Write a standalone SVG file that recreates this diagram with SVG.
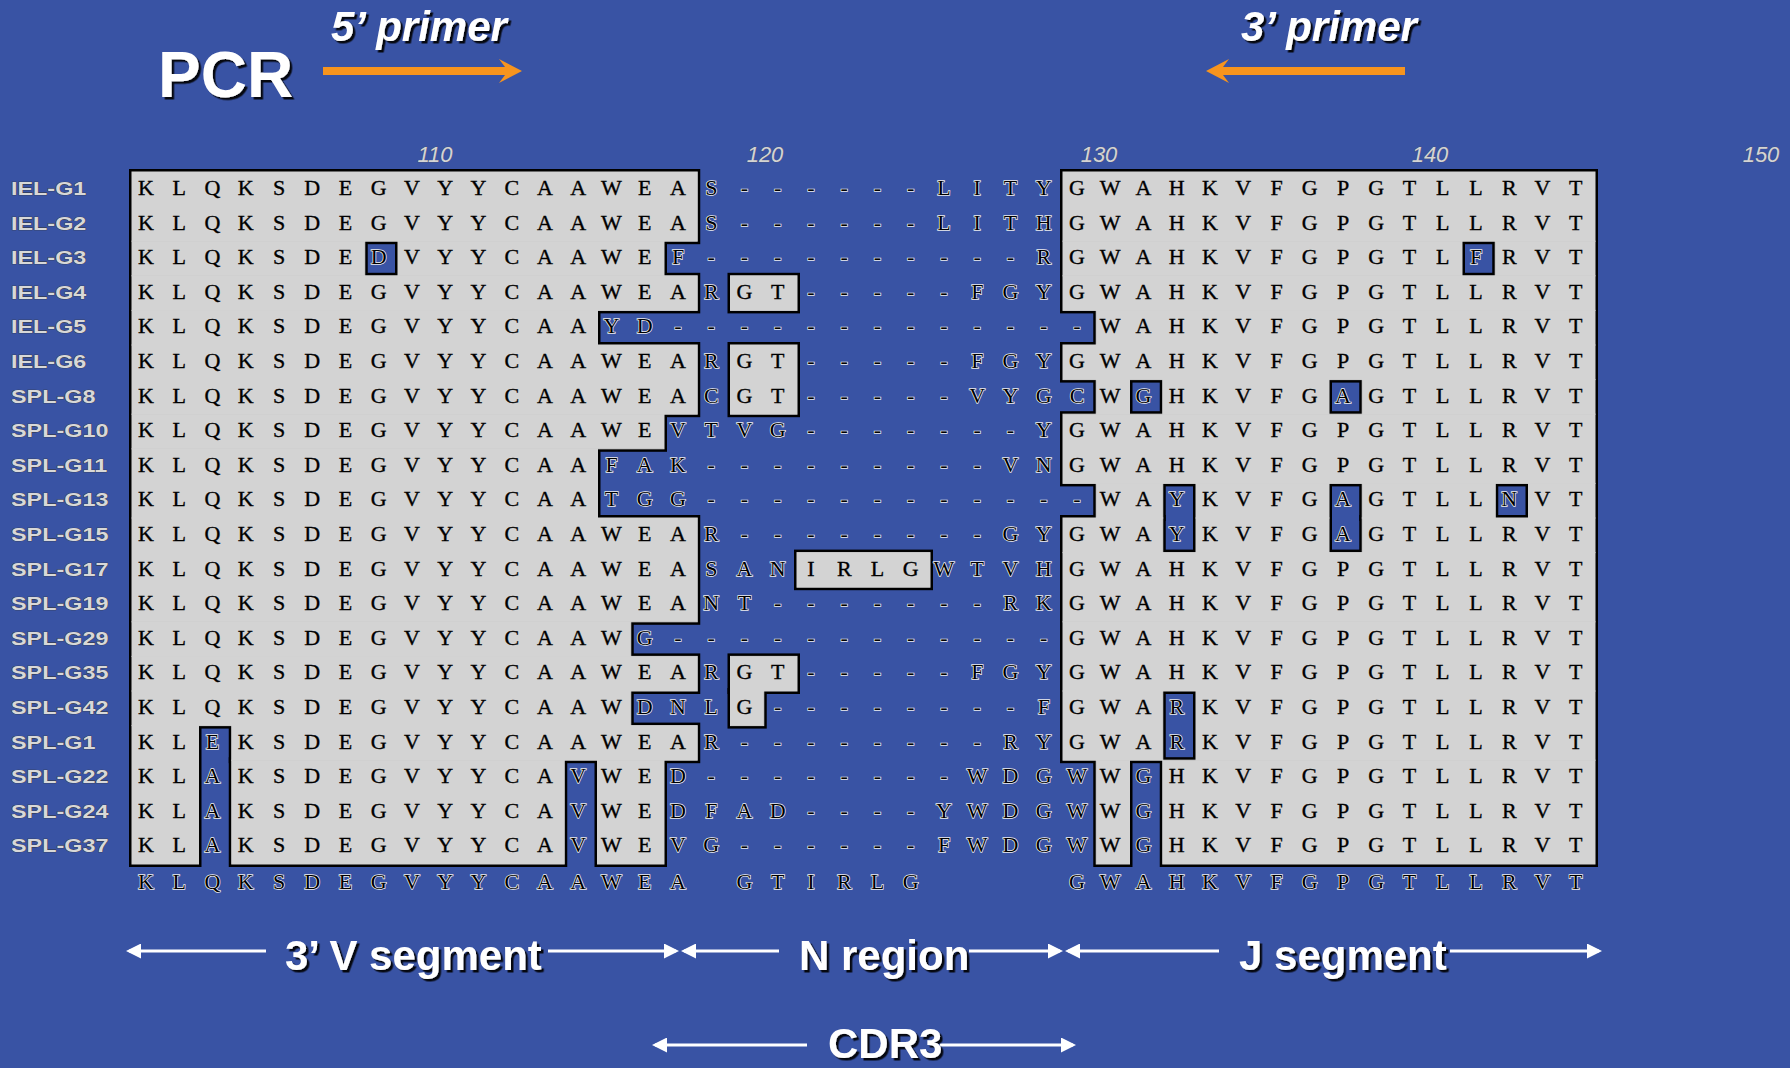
<svg xmlns="http://www.w3.org/2000/svg" xmlns:xlink="http://www.w3.org/1999/xlink" width="1790" height="1068" viewBox="0 0 1790 1068">
<style>
.lbl{font-family:"Liberation Sans",Arial,sans-serif;font-weight:bold;font-size:18px;fill:#d8d8d8;stroke:#333;stroke-width:0.7px;paint-order:stroke}
.num{font-family:"Liberation Sans",Arial,sans-serif;font-style:italic;font-size:22px;fill:#d4d4d4;stroke:#555;stroke-width:0.5px;paint-order:stroke;text-anchor:middle}
.t{font-family:"Liberation Serif","Times New Roman",serif;font-size:22px;fill:#000;stroke:#000;stroke-width:0.35px;text-anchor:middle}
.h{stroke:#eeeeee;stroke-width:1.5px;paint-order:stroke}
.big{font-family:"Liberation Sans",Arial,sans-serif;font-weight:bold;fill:#fff;filter:url(#sh)}
.ital{font-style:italic}
.arr{stroke:#fff;stroke-width:3;fill:none;marker-end:url(#ah)}
.org{fill:#F7941E}
</style>
<defs>
<filter id="sh" x="-10%" y="-10%" width="130%" height="140%">
<feDropShadow dx="2.5" dy="2.5" stdDeviation="0.4" flood-color="#000" flood-opacity="0.9"/>
</filter>
<marker id="ah" viewBox="0 0 10 10" refX="8" refY="5" markerUnits="userSpaceOnUse" markerWidth="15" markerHeight="15" orient="auto">
<path d="M0,0 L10,5 L0,10 z" fill="#fff"/>
</marker>
<g id="cells">
<rect x="132" y="172" width="565.25" height="69.2"/>
<rect x="1063" y="172" width="532" height="69.2"/>
<rect x="132" y="241.2" width="232.75" height="34.6"/>
<rect x="398" y="241.2" width="266" height="34.6"/>
<rect x="1063" y="241.2" width="399" height="34.6"/>
<rect x="1495.25" y="241.2" width="99.75" height="34.6"/>
<rect x="132" y="275.8" width="565.25" height="34.6"/>
<rect x="730.5" y="275.8" width="66.5" height="34.6"/>
<rect x="1063" y="275.8" width="532" height="34.6"/>
<rect x="132" y="310.4" width="465.5" height="34.6"/>
<rect x="1096.25" y="310.4" width="498.75" height="34.6"/>
<rect x="132" y="345" width="565.25" height="69.2"/>
<rect x="730.5" y="345" width="66.5" height="69.2"/>
<rect x="1063" y="345" width="532" height="34.6"/>
<rect x="1096.25" y="379.6" width="33.25" height="34.6"/>
<rect x="1162.75" y="379.6" width="166.25" height="34.6"/>
<rect x="1362.25" y="379.6" width="232.75" height="34.6"/>
<rect x="132" y="414.2" width="532" height="34.6"/>
<rect x="1063" y="414.2" width="532" height="69.2"/>
<rect x="132" y="448.8" width="465.5" height="69.2"/>
<rect x="1096.25" y="483.4" width="66.5" height="34.6"/>
<rect x="1196" y="483.4" width="133" height="34.6"/>
<rect x="1362.25" y="483.4" width="133" height="34.6"/>
<rect x="1528.5" y="483.4" width="66.5" height="34.6"/>
<rect x="132" y="518" width="565.25" height="103.8"/>
<rect x="1063" y="518" width="99.75" height="34.6"/>
<rect x="1196" y="518" width="133" height="34.6"/>
<rect x="1362.25" y="518" width="232.75" height="34.6"/>
<rect x="797" y="552.6" width="133" height="34.6"/>
<rect x="1063" y="552.6" width="532" height="69.2"/>
<rect x="132" y="621.8" width="498.75" height="34.6"/>
<rect x="1063" y="621.8" width="532" height="69.2"/>
<rect x="132" y="656.4" width="565.25" height="34.6"/>
<rect x="730.5" y="656.4" width="66.5" height="34.6"/>
<rect x="132" y="691" width="498.75" height="34.6"/>
<rect x="730.5" y="691" width="33.25" height="34.6"/>
<rect x="1063" y="691" width="99.75" height="69.2"/>
<rect x="1196" y="691" width="399" height="69.2"/>
<rect x="132" y="725.6" width="66.5" height="138.4"/>
<rect x="231.75" y="725.6" width="465.5" height="34.6"/>
<rect x="231.75" y="760.2" width="332.5" height="103.8"/>
<rect x="597.5" y="760.2" width="66.5" height="103.8"/>
<rect x="1096.25" y="760.2" width="33.25" height="103.8"/>
<rect x="1162.75" y="760.2" width="432.25" height="103.8"/>
</g>
</defs>
<rect id="background" x="0" y="0" width="1790" height="1068" fill="#3953A4"/>
<g id="title">
<text class="big" x="158" y="97" font-size="64">PCR</text>
<text class="big ital" x="331" y="41" font-size="42">5’ primer</text>
<text class="big ital" x="1241" y="41" font-size="42">3’ primer</text>
<polygon class="org" points="323,67 505,67 499,59 522,71 499,83 505,75 323,75"/>
<polygon class="org" points="1405,67 1223,67 1229,59 1206,71 1229,83 1223,75 1405,75"/>
</g>
<g id="ruler">
<text class="num" x="435" y="162">110</text>
<text class="num" x="765" y="162">120</text>
<text class="num" x="1099" y="162">130</text>
<text class="num" x="1430" y="162">140</text>
<text class="num" x="1761" y="162">150</text>
</g>
<g id="alignment-boxes">
<use xlink:href="#cells" href="#cells" fill="#000" stroke="#000" stroke-width="6"/>
<use xlink:href="#cells" href="#cells" fill="#D3D3D3" stroke="#D3D3D3" stroke-width="1"/>
</g>
<g id="row-labels" transform="translate(11,0) scale(1.3,1)">
<text class="lbl" x="0" y="195">IEL-G1</text>
<text class="lbl" x="0" y="229.6">IEL-G2</text>
<text class="lbl" x="0" y="264.2">IEL-G3</text>
<text class="lbl" x="0" y="298.8">IEL-G4</text>
<text class="lbl" x="0" y="333.4">IEL-G5</text>
<text class="lbl" x="0" y="368">IEL-G6</text>
<text class="lbl" x="0" y="402.6">SPL-G8</text>
<text class="lbl" x="0" y="437.2">SPL-G10</text>
<text class="lbl" x="0" y="471.8">SPL-G11</text>
<text class="lbl" x="0" y="506.4">SPL-G13</text>
<text class="lbl" x="0" y="541">SPL-G15</text>
<text class="lbl" x="0" y="575.6">SPL-G17</text>
<text class="lbl" x="0" y="610.2">SPL-G19</text>
<text class="lbl" x="0" y="644.8">SPL-G29</text>
<text class="lbl" x="0" y="679.4">SPL-G35</text>
<text class="lbl" x="0" y="714">SPL-G42</text>
<text class="lbl" x="0" y="748.6">SPL-G1</text>
<text class="lbl" x="0" y="783.2">SPL-G22</text>
<text class="lbl" x="0" y="817.8">SPL-G24</text>
<text class="lbl" x="0" y="852.4">SPL-G37</text>
</g>
<g id="sequences">
<text class="t" y="195" x="146 179.25 212.5 245.75 279 312.25 345.5 378.75 412 445.25 478.5 511.75 545 578.25 611.5 644.75 678 711.25 744.5 777.75 811 844.25 877.5 910.75 944 977.25 1010.5 1043.75 1077 1110.25 1143.5 1176.75 1210 1243.25 1276.5 1309.75 1343 1376.25 1409.5 1442.75 1476 1509.25 1542.5 1575.75">KLQKSDEGVYYCAAWEA<tspan class="h">S------LITY</tspan>GWAHKVFGPGTLLRVT</text>
<text class="t" y="229.6" x="146 179.25 212.5 245.75 279 312.25 345.5 378.75 412 445.25 478.5 511.75 545 578.25 611.5 644.75 678 711.25 744.5 777.75 811 844.25 877.5 910.75 944 977.25 1010.5 1043.75 1077 1110.25 1143.5 1176.75 1210 1243.25 1276.5 1309.75 1343 1376.25 1409.5 1442.75 1476 1509.25 1542.5 1575.75">KLQKSDEGVYYCAAWEA<tspan class="h">S------LITH</tspan>GWAHKVFGPGTLLRVT</text>
<text class="t" y="264.2" x="146 179.25 212.5 245.75 279 312.25 345.5 378.75 412 445.25 478.5 511.75 545 578.25 611.5 644.75 678 711.25 744.5 777.75 811 844.25 877.5 910.75 944 977.25 1010.5 1043.75 1077 1110.25 1143.5 1176.75 1210 1243.25 1276.5 1309.75 1343 1376.25 1409.5 1442.75 1476 1509.25 1542.5 1575.75">KLQKSDE<tspan class="h">D</tspan>VYYCAAWE<tspan class="h">F----------R</tspan>GWAHKVFGPGTL<tspan class="h">F</tspan>RVT</text>
<text class="t" y="298.8" x="146 179.25 212.5 245.75 279 312.25 345.5 378.75 412 445.25 478.5 511.75 545 578.25 611.5 644.75 678 711.25 744.5 777.75 811 844.25 877.5 910.75 944 977.25 1010.5 1043.75 1077 1110.25 1143.5 1176.75 1210 1243.25 1276.5 1309.75 1343 1376.25 1409.5 1442.75 1476 1509.25 1542.5 1575.75">KLQKSDEGVYYCAAWEA<tspan class="h">R</tspan>GT<tspan class="h">-----FGY</tspan>GWAHKVFGPGTLLRVT</text>
<text class="t" y="333.4" x="146 179.25 212.5 245.75 279 312.25 345.5 378.75 412 445.25 478.5 511.75 545 578.25 611.5 644.75 678 711.25 744.5 777.75 811 844.25 877.5 910.75 944 977.25 1010.5 1043.75 1077 1110.25 1143.5 1176.75 1210 1243.25 1276.5 1309.75 1343 1376.25 1409.5 1442.75 1476 1509.25 1542.5 1575.75">KLQKSDEGVYYCAA<tspan class="h">YD-------------</tspan>WAHKVFGPGTLLRVT</text>
<text class="t" y="368" x="146 179.25 212.5 245.75 279 312.25 345.5 378.75 412 445.25 478.5 511.75 545 578.25 611.5 644.75 678 711.25 744.5 777.75 811 844.25 877.5 910.75 944 977.25 1010.5 1043.75 1077 1110.25 1143.5 1176.75 1210 1243.25 1276.5 1309.75 1343 1376.25 1409.5 1442.75 1476 1509.25 1542.5 1575.75">KLQKSDEGVYYCAAWEA<tspan class="h">R</tspan>GT<tspan class="h">-----FGY</tspan>GWAHKVFGPGTLLRVT</text>
<text class="t" y="402.6" x="146 179.25 212.5 245.75 279 312.25 345.5 378.75 412 445.25 478.5 511.75 545 578.25 611.5 644.75 678 711.25 744.5 777.75 811 844.25 877.5 910.75 944 977.25 1010.5 1043.75 1077 1110.25 1143.5 1176.75 1210 1243.25 1276.5 1309.75 1343 1376.25 1409.5 1442.75 1476 1509.25 1542.5 1575.75">KLQKSDEGVYYCAAWEA<tspan class="h">C</tspan>GT<tspan class="h">-----VYGC</tspan>W<tspan class="h">G</tspan>HKVFG<tspan class="h">A</tspan>GTLLRVT</text>
<text class="t" y="437.2" x="146 179.25 212.5 245.75 279 312.25 345.5 378.75 412 445.25 478.5 511.75 545 578.25 611.5 644.75 678 711.25 744.5 777.75 811 844.25 877.5 910.75 944 977.25 1010.5 1043.75 1077 1110.25 1143.5 1176.75 1210 1243.25 1276.5 1309.75 1343 1376.25 1409.5 1442.75 1476 1509.25 1542.5 1575.75">KLQKSDEGVYYCAAWE<tspan class="h">VTVG-------Y</tspan>GWAHKVFGPGTLLRVT</text>
<text class="t" y="471.8" x="146 179.25 212.5 245.75 279 312.25 345.5 378.75 412 445.25 478.5 511.75 545 578.25 611.5 644.75 678 711.25 744.5 777.75 811 844.25 877.5 910.75 944 977.25 1010.5 1043.75 1077 1110.25 1143.5 1176.75 1210 1243.25 1276.5 1309.75 1343 1376.25 1409.5 1442.75 1476 1509.25 1542.5 1575.75">KLQKSDEGVYYCAA<tspan class="h">FAK---------VN</tspan>GWAHKVFGPGTLLRVT</text>
<text class="t" y="506.4" x="146 179.25 212.5 245.75 279 312.25 345.5 378.75 412 445.25 478.5 511.75 545 578.25 611.5 644.75 678 711.25 744.5 777.75 811 844.25 877.5 910.75 944 977.25 1010.5 1043.75 1077 1110.25 1143.5 1176.75 1210 1243.25 1276.5 1309.75 1343 1376.25 1409.5 1442.75 1476 1509.25 1542.5 1575.75">KLQKSDEGVYYCAA<tspan class="h">TGG------------</tspan>WA<tspan class="h">Y</tspan>KVFG<tspan class="h">A</tspan>GTLL<tspan class="h">N</tspan>VT</text>
<text class="t" y="541" x="146 179.25 212.5 245.75 279 312.25 345.5 378.75 412 445.25 478.5 511.75 545 578.25 611.5 644.75 678 711.25 744.5 777.75 811 844.25 877.5 910.75 944 977.25 1010.5 1043.75 1077 1110.25 1143.5 1176.75 1210 1243.25 1276.5 1309.75 1343 1376.25 1409.5 1442.75 1476 1509.25 1542.5 1575.75">KLQKSDEGVYYCAAWEA<tspan class="h">R--------GY</tspan>GWA<tspan class="h">Y</tspan>KVFG<tspan class="h">A</tspan>GTLLRVT</text>
<text class="t" y="575.6" x="146 179.25 212.5 245.75 279 312.25 345.5 378.75 412 445.25 478.5 511.75 545 578.25 611.5 644.75 678 711.25 744.5 777.75 811 844.25 877.5 910.75 944 977.25 1010.5 1043.75 1077 1110.25 1143.5 1176.75 1210 1243.25 1276.5 1309.75 1343 1376.25 1409.5 1442.75 1476 1509.25 1542.5 1575.75">KLQKSDEGVYYCAAWEA<tspan class="h">SAN</tspan>IRLG<tspan class="h">WTVH</tspan>GWAHKVFGPGTLLRVT</text>
<text class="t" y="610.2" x="146 179.25 212.5 245.75 279 312.25 345.5 378.75 412 445.25 478.5 511.75 545 578.25 611.5 644.75 678 711.25 744.5 777.75 811 844.25 877.5 910.75 944 977.25 1010.5 1043.75 1077 1110.25 1143.5 1176.75 1210 1243.25 1276.5 1309.75 1343 1376.25 1409.5 1442.75 1476 1509.25 1542.5 1575.75">KLQKSDEGVYYCAAWEA<tspan class="h">NT-------RK</tspan>GWAHKVFGPGTLLRVT</text>
<text class="t" y="644.8" x="146 179.25 212.5 245.75 279 312.25 345.5 378.75 412 445.25 478.5 511.75 545 578.25 611.5 644.75 678 711.25 744.5 777.75 811 844.25 877.5 910.75 944 977.25 1010.5 1043.75 1077 1110.25 1143.5 1176.75 1210 1243.25 1276.5 1309.75 1343 1376.25 1409.5 1442.75 1476 1509.25 1542.5 1575.75">KLQKSDEGVYYCAAW<tspan class="h">G------------</tspan>GWAHKVFGPGTLLRVT</text>
<text class="t" y="679.4" x="146 179.25 212.5 245.75 279 312.25 345.5 378.75 412 445.25 478.5 511.75 545 578.25 611.5 644.75 678 711.25 744.5 777.75 811 844.25 877.5 910.75 944 977.25 1010.5 1043.75 1077 1110.25 1143.5 1176.75 1210 1243.25 1276.5 1309.75 1343 1376.25 1409.5 1442.75 1476 1509.25 1542.5 1575.75">KLQKSDEGVYYCAAWEA<tspan class="h">R</tspan>GT<tspan class="h">-----FGY</tspan>GWAHKVFGPGTLLRVT</text>
<text class="t" y="714" x="146 179.25 212.5 245.75 279 312.25 345.5 378.75 412 445.25 478.5 511.75 545 578.25 611.5 644.75 678 711.25 744.5 777.75 811 844.25 877.5 910.75 944 977.25 1010.5 1043.75 1077 1110.25 1143.5 1176.75 1210 1243.25 1276.5 1309.75 1343 1376.25 1409.5 1442.75 1476 1509.25 1542.5 1575.75">KLQKSDEGVYYCAAW<tspan class="h">DNL</tspan>G<tspan class="h">--------F</tspan>GWA<tspan class="h">R</tspan>KVFGPGTLLRVT</text>
<text class="t" y="748.6" x="146 179.25 212.5 245.75 279 312.25 345.5 378.75 412 445.25 478.5 511.75 545 578.25 611.5 644.75 678 711.25 744.5 777.75 811 844.25 877.5 910.75 944 977.25 1010.5 1043.75 1077 1110.25 1143.5 1176.75 1210 1243.25 1276.5 1309.75 1343 1376.25 1409.5 1442.75 1476 1509.25 1542.5 1575.75">KL<tspan class="h">E</tspan>KSDEGVYYCAAWEA<tspan class="h">R--------RY</tspan>GWA<tspan class="h">R</tspan>KVFGPGTLLRVT</text>
<text class="t" y="783.2" x="146 179.25 212.5 245.75 279 312.25 345.5 378.75 412 445.25 478.5 511.75 545 578.25 611.5 644.75 678 711.25 744.5 777.75 811 844.25 877.5 910.75 944 977.25 1010.5 1043.75 1077 1110.25 1143.5 1176.75 1210 1243.25 1276.5 1309.75 1343 1376.25 1409.5 1442.75 1476 1509.25 1542.5 1575.75">KL<tspan class="h">A</tspan>KSDEGVYYCA<tspan class="h">V</tspan>WE<tspan class="h">D--------WDGW</tspan>W<tspan class="h">G</tspan>HKVFGPGTLLRVT</text>
<text class="t" y="817.8" x="146 179.25 212.5 245.75 279 312.25 345.5 378.75 412 445.25 478.5 511.75 545 578.25 611.5 644.75 678 711.25 744.5 777.75 811 844.25 877.5 910.75 944 977.25 1010.5 1043.75 1077 1110.25 1143.5 1176.75 1210 1243.25 1276.5 1309.75 1343 1376.25 1409.5 1442.75 1476 1509.25 1542.5 1575.75">KL<tspan class="h">A</tspan>KSDEGVYYCA<tspan class="h">V</tspan>WE<tspan class="h">DFAD----YWDGW</tspan>W<tspan class="h">G</tspan>HKVFGPGTLLRVT</text>
<text class="t" y="852.4" x="146 179.25 212.5 245.75 279 312.25 345.5 378.75 412 445.25 478.5 511.75 545 578.25 611.5 644.75 678 711.25 744.5 777.75 811 844.25 877.5 910.75 944 977.25 1010.5 1043.75 1077 1110.25 1143.5 1176.75 1210 1243.25 1276.5 1309.75 1343 1376.25 1409.5 1442.75 1476 1509.25 1542.5 1575.75">KL<tspan class="h">A</tspan>KSDEGVYYCA<tspan class="h">V</tspan>WE<tspan class="h">VG------FWDGW</tspan>W<tspan class="h">G</tspan>HKVFGPGTLLRVT</text>
<text class="t h" y="889" x="146 179.25 212.5 245.75 279 312.25 345.5 378.75 412 445.25 478.5 511.75 545 578.25 611.5 644.75 678 744.5 777.75 811 844.25 877.5 910.75 1077 1110.25 1143.5 1176.75 1210 1243.25 1276.5 1309.75 1343 1376.25 1409.5 1442.75 1476 1509.25 1542.5 1575.75">KLQKSDEGVYYCAAWEAGTIRLGGWAHKVFGPGTLLRVT</text>
</g>
<g id="connectors">
<line class="arr" x1="266" y1="951" x2="129" y2="951"/>
<line class="arr" x1="548" y1="951" x2="676" y2="951"/>
<line class="arr" x1="779" y1="951" x2="684" y2="951"/>
<line class="arr" x1="969" y1="951" x2="1060" y2="951"/>
<line class="arr" x1="1219" y1="951" x2="1068" y2="951"/>
<line class="arr" x1="1450" y1="951" x2="1599" y2="951"/>
<line class="arr" x1="807" y1="1045" x2="655" y2="1045"/>
<line class="arr" x1="940" y1="1045" x2="1073" y2="1045"/>
</g>
<g id="region-labels">
<text class="big" x="285" y="970" font-size="42">3’ V segment</text>
<text class="big" x="799" y="970" font-size="42">N region</text>
<text class="big" x="1239" y="970" font-size="42">J segment</text>
<text class="big" x="828" y="1058" font-size="42">CDR3</text>
</g>
</svg>
